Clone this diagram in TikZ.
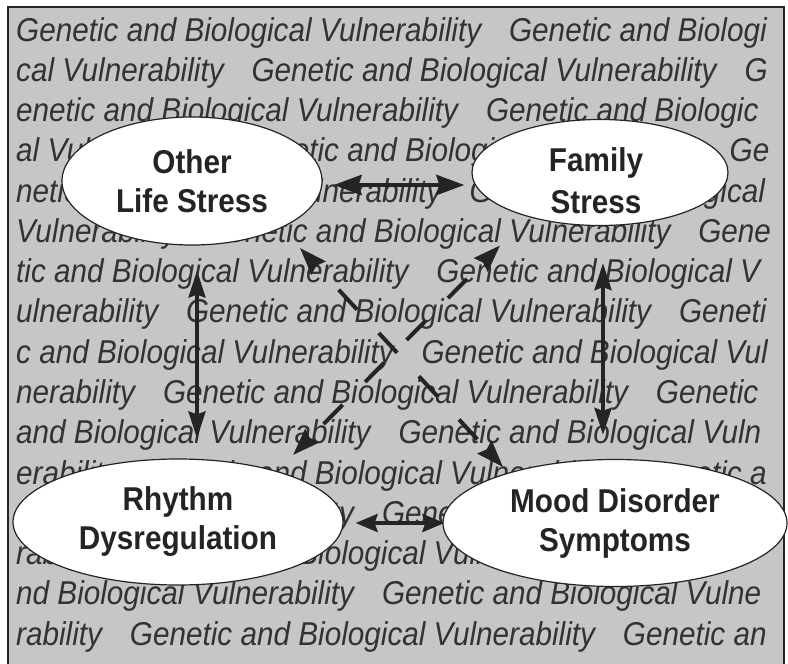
\documentclass[tikz,border=0pt]{standalone}
\usepackage{fontspec}
\newfontfamily\hv{Liberation Sans}[FakeStretch=0.9]
\usetikzlibrary{shapes.geometric,arrows.meta}
\definecolor{bggray}{RGB}{198,198,198}
\definecolor{inkbg}{RGB}{50,50,50}
\definecolor{ink}{RGB}{36,36,36}
\newcommand{\gsep}{\hspace{28pt}}
\begin{document}
\begin{tikzpicture}[x=1pt,y=-1pt,
  bgline/.style={anchor=base west, inner sep=0pt, text=inkbg, font=\hv\itshape\fontsize{33}{40}\selectfont},
  bubble/.style={ellipse, draw=ink, line width=1.2pt, fill=white, inner sep=0pt, text=ink, align=center, font=\hv\bfseries\fontsize{33}{39}\selectfont},
  bubbletext/.style={inner sep=0pt, text=ink, align=center, font=\hv\bfseries\fontsize{33}{42}\selectfont},
  link/.style={draw=ink, line width=4.5pt, {Stealth[length=28pt,width=20pt,inset=3pt]}-{Stealth[length=28pt,width=20pt,inset=3pt]}},
  vlink/.style={draw=ink, line width=3.2pt, {Stealth[length=27pt,width=17pt,inset=3pt]}-{Stealth[length=27pt,width=17pt,inset=3pt]}},
  hlink/.style={draw=ink, line width=4pt, {Stealth[length=22pt,width=18pt,inset=3pt]}-{Stealth[length=22pt,width=18pt,inset=3pt]}},
  dlink/.style={draw=ink, line width=4pt, {Stealth[length=27pt,width=19pt,inset=3pt]}-{Stealth[length=27pt,width=19pt,inset=3pt]}, dash pattern=on 27pt off 32pt}]
\useasboundingbox (0,0) rectangle (788,664);
\fill[bggray] (8,7) rectangle (784,666);
% background text
\node[bgline] (t1)  at (16,41)    {Genetic and Biological Vulnerability\gsep Genetic and Biologi};
\node[bgline] (t2)  at (16,81.3)  {cal Vulnerability\gsep Genetic and Biological Vulnerability\gsep G};
\node[bgline] (t3)  at (16,121.5) {enetic and Biological Vulnerability\gsep Genetic and Biologic};
\node[bgline] (t4)  at (16,161.8) {al Vulnerability\gsep Genetic and Biological Vulnerability\gsep Ge};
\node[bgline] (t5)  at (16,202.1) {netic and Biological Vulnerability\gsep Genetic and Biological};
\node[bgline] (t6)  at (16,242.4) {Vulnerability\gsep Genetic and Biological Vulnerability\gsep Gene};
\node[bgline] (t7)  at (16,282.6) {tic and Biological Vulnerability\gsep Genetic and Biological V};
\node[bgline] (t8)  at (16,322.9) {ulnerability\gsep Genetic and Biological Vulnerability\gsep Geneti};
\node[bgline] (t9)  at (16,363.2) {c and Biological Vulnerability\gsep Genetic and Biological Vul};
\node[bgline] (t10) at (16,403.4) {nerability\gsep Genetic and Biological Vulnerability\gsep Genetic};
\node[bgline] (t11) at (16,443.7) {and Biological Vulnerability\gsep Genetic and Biological Vuln};
\node[bgline] (t12) at (16,484.0) {erability\gsep Genetic and Biological Vulnerability\gsep Genetic a};
\node[bgline] (t13) at (16,524.2) {nd Biological Vulnerability\gsep Genetic and Biological Vulne};
\node[bgline] (t14) at (16,564.5) {rability\gsep Genetic and Biological Vulnerability\gsep Genetic a};
\node[bgline] (t15) at (16,604.8) {nd Biological Vulnerability\gsep Genetic and Biological Vulne};
\node[bgline] (t16) at (16,645.1) {rability\gsep Genetic and Biological Vulnerability\gsep Genetic an};
% frame
\draw[ink, line width=1.2pt] (8,666) -- (8,7) -- (784,7) -- (784,666);
% ellipses
\node[bubble, minimum width=260pt, minimum height=128pt] (other)  at (192,181)   {Other\\Life Stress};
\node[bubble, minimum width=256pt, minimum height=106pt] (family) at (600,172.5) {};
\node[bubbletext] (familytext) at (596,181) {Family\\Stress};
\node[bubble, minimum width=330pt, minimum height=126pt] (rhythm) at (178,522)   {Rhythm\\Dysregulation};
\node[bubble, minimum width=344pt, minimum height=127pt] (mood)   at (615,523)   {Mood Disorder\\Symptoms};
% connectors
\draw[link, shorten <=11pt, shorten >=7pt] ([yshift=-4pt]other.east) -- ([yshift=-12.5pt]family.west);
\draw[vlink, shorten <=25pt, shorten >=20pt] ([xshift=5pt]other.south) -- ([xshift=19pt]rhythm.north);
\draw[vlink, line width=3.6pt, shorten <=37pt, shorten >=24pt] ([xshift=3pt]family.south) -- ([xshift=-12pt]mood.north);
\draw[hlink, shorten <=12pt, shorten >=-2pt] ([yshift=-1pt]rhythm.east) -- (mood.west);
\draw[dlink, dash phase=25pt] ([shift={(108,67)}]other.center) -- ([shift={(-112,-56)}]mood.center);
\draw[dlink, dash phase=35pt] ([shift={(-100,73)}]family.center) -- ([shift={(115,-67)}]rhythm.center);
\end{tikzpicture}
\end{document}
